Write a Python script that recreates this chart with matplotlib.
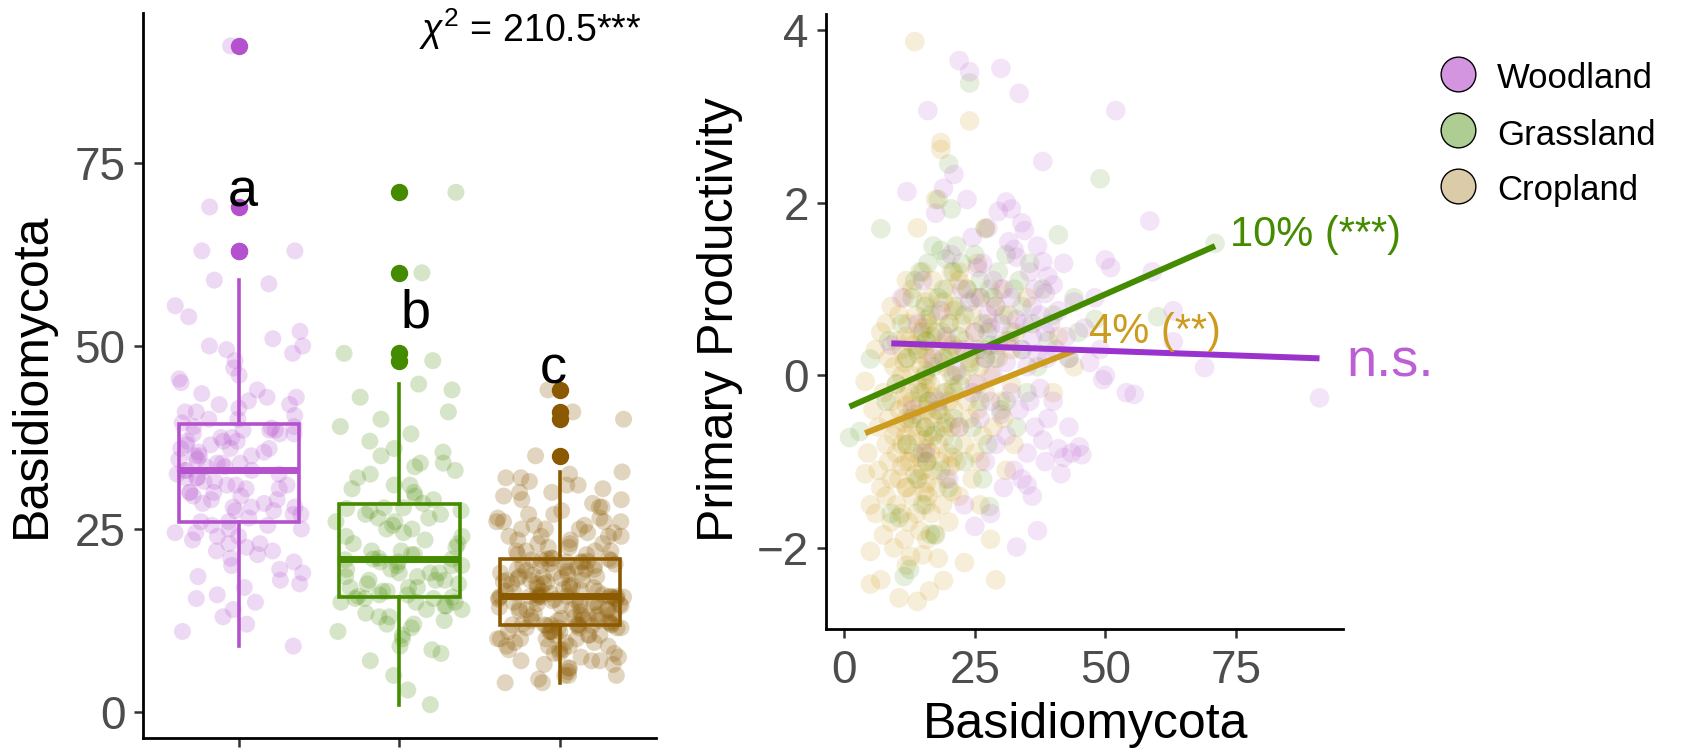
import numpy as np
import matplotlib
matplotlib.use('Agg')
import matplotlib.pyplot as plt
from matplotlib.lines import Line2D

plt.rcParams['font.family'] = ['Liberation Sans', 'DejaVu Sans']
plt.rcParams['mathtext.fontset'] = 'custom'
plt.rcParams['mathtext.rm'] = 'Liberation Sans'
plt.rcParams['mathtext.it'] = 'Liberation Sans:italic'

# ---------------- data ----------------
groups = ['Woodland', 'Grassland', 'Cropland']

woodland_basidio = [
    9, 11, 12, 13, 14, 15, 15.5, 16, 17, 17.5, 18, 18.5, 19, 19.5, 20, 20.5, 21, 21.5, 22, 22,
    22.5, 23, 23, 23.5, 24, 24, 24.5, 24.5, 25, 25, 25.5, 25.5,
    26, 26, 26.5, 27, 27, 27.5, 27.5, 28, 28, 28, 28.5, 28.5, 29, 29, 29.5, 29.5, 30, 30, 30, 30.5,
    30.5, 31, 31, 31, 31.5, 31.5, 32, 32, 32, 32.5, 32.5, 33, 33,
    33, 33.5, 33.5, 34, 34, 34, 34.5, 34.5, 35, 35, 35, 35.5, 35.5, 36, 36, 36, 36.5, 36.5, 37, 37,
    37, 37.5, 37.5, 38, 38, 38, 38.5, 38.5, 38.5, 38.8, 39, 39,
    39.5, 40, 40, 40.5, 41, 41, 41.5, 42, 42, 42.5, 43, 43, 43.5, 44, 45, 45.5, 46, 47,
    48, 49, 49.5, 50, 50, 51, 52, 54, 55.5, 58.5, 59, 63, 63, 69, 91]
woodland_prod = [
    0.35, 0.9, 2.13, -0.4, 0.6, 1.1, -0.9, 3.07, 0.2, 1.88, -0.3, 0.75, 2.17, 0.45, -1.2, 1.4, 2.33, 0.05, 3.65, -0.6,
    1.0, 0.3, -1.5, 2.04, 3.52, 0.85, -0.2, 1.6, 0.5, -1.75, 1.25, -0.1,
    0.9, -0.5, 1.3, 0.2, -1.0, 0.7, 1.71, -0.3, 0.55, -1.6, 1.1, 0.0, 0.8, -0.8, 1.9, 0.35, 3.56, -0.45, 0.6, -1.3,
    1.0, 2.01, 0.15, -0.7, 1.55, 0.4, 1.93, -0.2, 0.9, -1.1, 1.46, -1.99, 0.65,
    1.37, 3.27, -0.4, 1.77, 0.3, -1.2, 1.68, 0.6, -0.9, 0.1, -1.27, 1.2, -0.3, 0.8, -1.4, 0.45, 1.0, -0.6, 0.25, -1.8,
    1.5, 0.7, -0.15, 2.48, 1.32, -0.75, 0.5, -1.0, 0.95, 0.2, -0.5, 1.15,
    0.6, -0.3, 1.05, 0.3, -0.85, 0.75, -1.14, -0.95, 1.3, 0.45, -0.6, 0.2, -0.9, 0.85, -0.83, -0.92, 0.55, 0.15,
    0.9, 0.3, -0.05, 1.34, 0.0, 1.25, 3.07, -0.2, -0.22, 1.79, 1.2, 0.75, 0.39, 0.09, -0.26]

grassland_basidio = [
    1, 3, 5, 7, 8, 8.5, 9, 10, 10.5, 11, 11.5, 12, 12, 12.5, 13, 13, 13.5, 14, 14, 14.5, 14.5, 15, 15, 15,
    15.5, 15.5, 15.5,
    15.7, 15.8, 16, 16, 16.5, 16.5, 17, 17, 17, 17.5, 17.5, 18, 18, 18, 18.5, 18.5, 19, 19, 19, 19.5,
    19.5, 20, 20, 20, 20.5, 20.5, 20.8, 20.9,
    20.9, 21, 21.5, 21.5, 22, 22, 22.5, 23, 23, 23.5, 24, 24, 24.5, 25, 25, 25.5, 26, 26, 26.5, 26.5,
    27, 27, 27.5, 27.5, 27.8, 27.9, 27.9,
    28.5, 29, 29.5, 30, 30.5, 31, 31, 32, 32.5, 33, 33.5, 34, 34, 35, 35.5, 36, 37, 38, 39, 40,
    41, 43, 44, 44.8, 48, 49, 60, 71]
grassland_prod = [
    -0.72, -0.65, 0.19, 1.70, -0.3, 0.4, -1.6, -0.1, -1.65, 0.6, -2.33, 0.2, -0.8, -2.25, 0.9, -0.5, 1.1, -1.2, 0.3,
    -0.2, 1.2, -0.9, 0.5, -1.5, 0.0, 0.8, -0.6,
    0.4, -1.0, 1.3, -0.3, 0.7, -1.84, 0.1, 1.5, -0.7, -1.85, 0.5, 2.04, -0.4, 0.9, 1.45, -1.1, 0.2, -0.6, 1.0, 1.35,
    -0.2, 0.6, 2.45, -1.3, 0.3, 1.93, -0.8, 0.0,
    1.2, -0.5, 0.8, 1.5, -0.1, 0.45, 1.3, -1.0, 0.7, 1.0, 3.39, 0.1, -0.6, 0.9, 1.4, 0.3, -0.3, 1.1, 0.6, -1.2,
    0.2, 1.7, -0.8, 0.5, -1.52, 1.0, 0.35,
    0.9, 0.2, 1.2, -0.4, 0.7, 1.4, -0.3, 0.5, 1.0, -0.6, 1.1, 0.3, 0.8, -0.2, 1.3, 0.6, 0.1, 1.0, 0.4, 0.7,
    1.63, 0.2, 0.9, 0.5, 0.65, 2.28, 0.68, 1.53]

cropland_basidio = [
    4, 4, 4.5, 5, 5, 5, 5.5, 6, 6, 6.5, 6.5, 7, 7, 7, 7.5, 7.5, 8, 8, 8, 8.5,
    8.5, 8.5, 9, 9, 9, 9, 9.5, 9.5, 9.5, 10, 10, 10, 10, 10, 10.5, 10.5, 10.5, 10.5, 11, 11,
    11, 11, 11, 11.5, 11.5, 11.5, 11.5, 11.5, 11.8, 11.8, 11.8, 11.9, 11.9, 11.9, 11.9,
    11.9, 12, 12, 12, 12.2, 12.3, 12.5, 12.5, 12.5, 12.7, 12.8, 13, 13, 13, 13, 13.2, 13.3, 13.5, 13.5, 13.5,
    13.7, 13.8, 14, 14, 14, 14, 14.2, 14.3, 14.5, 14.5, 14.5, 14.5, 14.7, 14.8, 15, 15, 15, 15, 15.2, 15.3,
    15.4, 15.4, 15.5, 15.5, 15.6, 15.6, 15.7, 15.7, 15.7, 15.7, 15.8, 15.8, 15.8, 15.8, 15.8,
    15.8, 16, 16, 16, 16.2, 16.3, 16.5, 16.5, 16.5, 16.7, 16.8, 17, 17, 17, 17.2, 17.3, 17.5, 17.5, 17.5, 17.7,
    17.8, 18, 18, 18, 18.2, 18.3, 18.5, 18.5, 18.5, 18.7, 18.8, 19, 19, 19, 19.2, 19.3, 19.5, 19.5, 19.5, 19.7,
    19.8, 20, 20, 20, 20.2, 20.3, 20.5, 20.5, 20.5, 20.6, 20.7, 20.8, 20.8, 20.9, 20.9,
    21, 21, 21.5, 21.5, 22, 22, 22, 22.5, 22.5, 23, 23, 23, 23.5, 23.5, 24, 24, 24, 24.5, 24.5, 25,
    25, 25, 25.5, 25.5, 26, 26, 26, 26.5, 26.5, 27, 27, 27.5, 28, 28, 28.5, 29, 29, 29.5, 30, 30,
    30.5, 31, 31, 31.5, 32, 32, 32.5, 32.8, 26, 24, 22, 35, 40, 41, 44]
cropland_prod = [
    -1.14, -0.07, -0.9, -2.42, -2.04, -1.5, -0.4, -1.6, 0.3, -1.1, -0.6, -2.37, 0.5, -1.3, -0.2, -1.85, -0.8, 0.6, -1.4, -0.5,
    0.2, -1.0, -1.7, -0.3, 0.8, -1.2, -0.7, 0.1, -2.0, -0.9, 0.4, -1.5, -0.1, -0.6, -1.2, 0.7, -0.4, -2.58, 0.0, -0.8,
    -1.6, 0.3, -1.05, -0.25, 0.9, -0.55, -1.9, 0.15, -0.7, -1.3, 0.45, -0.35, -1.0, 1.1, -2.2,
    -0.5, 0.2, -1.3, -0.8, 0.6, -1.7, -0.2, 0.4, -1.0, -2.1, 0.0, -0.6, 1.0, -1.4, -0.3, 0.35, -0.9, 3.87, -1.15, -0.45,
    0.7, -1.6, -0.1, 1.71, -2.62, -0.7, 0.25, -1.2, -0.35, 0.5, -0.95, -1.8, 0.1, -0.5, 1.2, -1.1, -0.2, -2.08, 0.55, -0.75,
    -1.35, 0.3, -0.6, 0.85, -1.5, -0.15, 0.05, -0.85, -1.25, 0.4, -0.4, -1.9, 0.65, -0.05, -1.0,
    0.2, -0.7, -1.4, 0.6, -0.3, -2.5, 0.9, -0.9, -0.1, -1.6, 0.45, -1.1, -0.5, 1.1, -0.25, -1.84, 0.3, -0.65, 2.04, -1.3,
    -0.4, 0.7, -2.12, -0.8, 0.15, -1.0, 2.70, -0.45, 2.62, 0.5, -1.5, -0.2, -2.38, 0.85, -0.7, 0.1, -1.2, 0.4, -0.55, 1.0,
    -0.9, 0.25, -1.7, -0.3, 0.6, -1.05, 0.0, -0.6, 1.2, -1.35, 0.35, -0.15, -0.95, 0.75, -0.4,
    -0.2, 0.8, -1.0, 0.3, -0.6, 1.1, -1.4, 0.0, 0.6, -0.8, 0.4, -2.17, -0.3, 1.0, 2.95, -0.5, 0.2, -1.2, 0.7, -0.1,
    -0.9, 0.5, 1.3, -0.4, 0.1, -1.5, 0.9, -0.7, 0.3, 1.71, -0.2, 0.6, -1.9, 0.0, -0.6, 0.8, -2.37, 0.2, -0.3, 1.0,
    -0.5, 0.4, -1.1, 0.7, -0.1, 0.3, -0.8, 0.5, -1.0, 0.15, 1.2, 0.9, -0.2, 0.45, 0.1]

group_letters = ['a', 'b', 'c']
letter_x = [1.02, 2.10, 2.96]
letter_y = [69, 52.5, 44.9]
chi_label = r'$\chi^2$ = 210.5***'

fit_intercept = [0.391, -0.389, -0.765]
fit_slope = [-0.002125, 0.0266, 0.02389]
fit_labels = ['n.s.', '10% (***)', '4% (**)']
fit_label_x = [96.1, 73.9, 46.9]
fit_label_y = [-0.01, 1.50, 0.37]

# ---------------- styles ----------------
box_colors = ['#B452CD', '#458B00', '#8B5A00']
line_colors = ['#9A32CD', '#458B00', '#CD9B1D']
fit_label_colors = ['#BC5FD6', '#458B00', '#CD9B1D']
fit_label_sizes = [39, 30, 30]
jit_alpha = [0.22, 0.22, 0.25]
pt_colors = ['#B452CD', '#458B00', '#CD9B1D']
pt_alpha = [0.15, 0.13, 0.17]
legend_colors = ['#D394E0', '#AECD93', '#DBCBA8']
tick_col = '#4D4D4D'

basidio = [woodland_basidio, grassland_basidio, cropland_basidio]
prod = [woodland_prod, grassland_prod, cropland_prod]

W, H = 1687, 749
fig = plt.figure(figsize=(W / 100, H / 100), dpi=100)

ax1 = fig.add_axes([143 / W, (H - 737.6) / H, 513 / W, 724.6 / H])
ax2 = fig.add_axes([826 / W, (H - 629) / H, 517 / W, 615 / H])

for ax in (ax1, ax2):
    for s in ('top', 'right'):
        ax.spines[s].set_visible(False)
    for s in ('left', 'bottom'):
        ax.spines[s].set_linewidth(2.0)
        ax.spines[s].set_color('black')
    ax.tick_params(axis='both', length=6.5, width=1.8, color='#333333',
                   labelsize=33, labelcolor=tick_col, pad=6)

# ---------------- left panel ----------------
for k, vals in enumerate(basidio):
    n = len(vals)
    idx = np.arange(n) + 1.0
    # deterministic horizontal jitter (position only), +/-0.4 like geom_jitter
    offs = ((np.sin(idx * 12.9898 + k * 78.233) * 43758.5453) % 1.0) * 0.8 - 0.4
    ax1.scatter(k + 1 + offs, vals, s=150, color=box_colors[k], alpha=jit_alpha[k],
                edgecolors='none', zorder=1)

bp = ax1.boxplot(basidio, positions=[1, 2, 3], widths=0.75, whis=1.5,
                 showcaps=False, patch_artist=True, manage_ticks=False)
for k in range(3):
    c = box_colors[k]
    bp['boxes'][k].set(facecolor='none', edgecolor=c, linewidth=2.6, zorder=3)
    bp['medians'][k].set(color=c, linewidth=5.0, solid_capstyle='butt', zorder=4)
    for w in bp['whiskers'][2 * k:2 * k + 2]:
        w.set(color=c, linewidth=2.6, zorder=3)
    bp['fliers'][k].set(marker='o', markerfacecolor=c, markeredgecolor=c,
                        markersize=11.5, zorder=4)

for k in range(3):
    ax1.text(letter_x[k], letter_y[k], group_letters[k], fontsize=39, color='black',
             ha='center', va='baseline', zorder=5)
ax1.text(3.51, 91.5, chi_label, fontsize=27, color='black', ha='right', va='baseline')

ax1.set_xlim(0.4, 3.6)
ax1.set_ylim(-3.5, 95.5)
ax1.set_xticks([1, 2, 3])
ax1.set_xticklabels([])
ax1.set_yticks([0, 25, 50, 75])
fig.text(32 / W, 1 - 375 / H, 'Basidiomycota', rotation=90, fontsize=36,
         ha='center', va='center')

# ---------------- right panel ----------------
for k in [2, 1, 0]:
    ax2.scatter(basidio[k], prod[k], s=200, color=pt_colors[k], alpha=pt_alpha[k],
                edgecolors='none', zorder=1)

for k in [1, 2, 0]:
    xs = np.array([min(basidio[k]), max(basidio[k])], dtype=float)
    ax2.plot(xs, fit_intercept[k] + fit_slope[k] * xs, color=line_colors[k], lw=4.3,
             solid_capstyle='butt', zorder=3)
    ax2.text(fit_label_x[k], fit_label_y[k], fit_labels[k], color=fit_label_colors[k],
             fontsize=fit_label_sizes[k], ha='left', va='baseline', zorder=4)

ax2.set_xlim(-3.5, 95.5)
ax2.set_ylim(-2.94, 4.19)
ax2.set_xticks([0, 25, 50, 75])
ax2.set_yticks([-2, 0, 2, 4])
ax2.tick_params(axis='x', pad=8)
fig.text(1086 / W, 1 - 738 / H, 'Basidiomycota', fontsize=36, ha='center', va='baseline')
fig.text(720 / W, 1 - 320 / H, 'Primary Productivity', rotation=90, fontsize=36,
         ha='center', va='center')

# ---------------- legend ----------------
leg_y = [74, 130, 186]
leg_base = [88, 145, 200]
for k in range(3):
    fig.add_artist(Line2D([1458 / W], [1 - leg_y[k] / H], transform=fig.transFigure,
                          marker='o', ls='', markersize=25, markerfacecolor=legend_colors[k],
                          markeredgecolor='black', markeredgewidth=1.0))
    fig.text(1497 / W, 1 - leg_base[k] / H, groups[k], fontsize=25, ha='left', va='baseline')

fig.savefig('out.png', dpi=100)
